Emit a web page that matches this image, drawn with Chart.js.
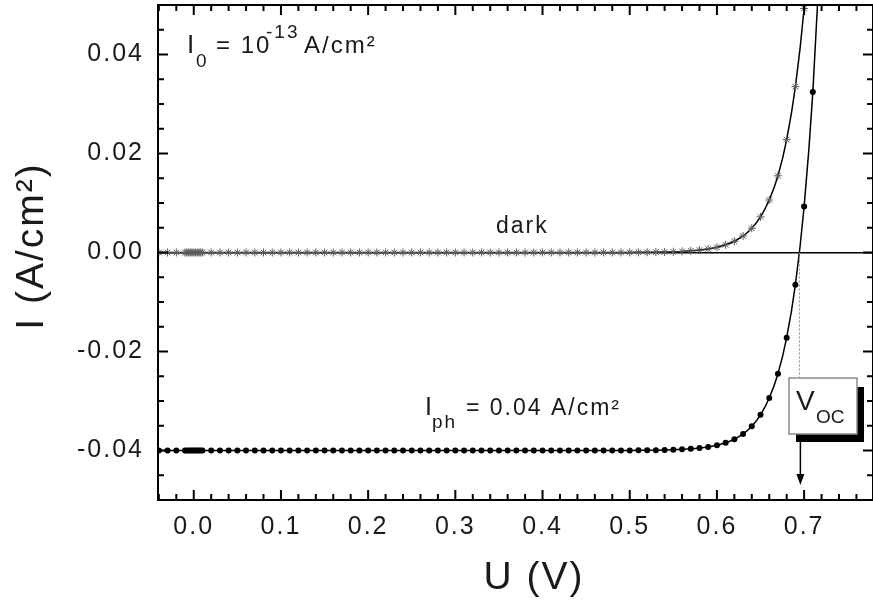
<!DOCTYPE html>
<html>
<head>
<meta charset="utf-8">
<script src="https://cdn.jsdelivr.net/npm/chart.js@4/dist/chart.umd.min.js"></script>
<style>
  html, body { margin:0; padding:0; overflow:hidden; background:#fff; }
  #wrap { position:absolute; left:0; top:0; width:878px; height:604px; }
</style>
</head>
<body>
<div id="wrap"><canvas id="c"></canvas></div>
<script>
// ---- data ----
const voltage = [-0.04,-0.03,-0.02,-0.01,-0.008,-0.006,-0.004,-0.002,0,0.002,0.004,0.006,0.008,0.01,
  0.02,0.03,0.04,0.05,0.06,0.07,0.08,0.09,0.10,0.11,0.12,0.13,0.14,0.15,0.16,0.17,0.18,0.19,0.20,
  0.21,0.22,0.23,0.24,0.25,0.26,0.27,0.28,0.29,0.30,0.31,0.32,0.33,0.34,0.35,0.36,0.37,0.38,0.39,0.40,
  0.41,0.42,0.43,0.44,0.45,0.46,0.47,0.48,0.49,0.50,0.51,0.52,0.53,0.54,0.55,0.56,0.57,0.58,0.59,0.60,
  0.61,0.62,0.63,0.64,0.65,0.66,0.67,0.68,0.69,0.70,0.71,0.72];

const darkCurrent = [0,0,0,0,0,0,0,0,0,0,0,0,0,0,
  0,0,0,0,0,0,0,0,0,0,0,0,0,0,0,0,0,0,0,
  0,0,0,0,0,0,0,0,0,0,0,0,0,0,0,0,0,0,0,0,
  0.0000007,0.000001,0.0000015,0.0000022,0.0000033,0.0000048,0.0000071,0.0000104,0.0000153,0.0000225,0.000033,0.0000485,0.0000713,0.000105,0.000154,0.000226,0.000332,0.000488,0.000716,0.00105,
  0.00155,0.00227,0.00334,0.0049,0.0072,0.0106,0.0155,0.0228,0.0335,0.0493,0.0724,0.106];

const lightCurrent = [-0.04,-0.04,-0.04,-0.04,-0.04,-0.04,-0.04,-0.04,-0.04,-0.04,-0.04,-0.04,-0.04,-0.04,
  -0.04,-0.04,-0.04,-0.04,-0.04,-0.04,-0.04,-0.04,-0.04,-0.04,-0.04,-0.04,-0.04,-0.04,-0.04,-0.04,-0.04,-0.04,-0.04,
  -0.04,-0.04,-0.04,-0.04,-0.04,-0.04,-0.04,-0.04,-0.04,-0.04,-0.04,-0.04,-0.04,-0.04,-0.04,-0.04,-0.04,-0.04,-0.04,-0.04,
  -0.04,-0.04,-0.04,-0.04,-0.04,-0.04,-0.04,-0.03999,-0.03998,-0.03998,-0.03997,-0.03995,-0.03993,-0.0399,-0.03985,-0.03977,-0.03967,-0.03951,-0.03928,-0.03895,
  -0.03845,-0.03773,-0.03666,-0.0351,-0.0328,-0.0294,-0.0245,-0.0172,-0.0065,0.0093,0.0324,0.066];

const xTickValues = [0.0,0.1,0.2,0.3,0.4,0.5,0.6,0.7];
const yTickValues = [-0.04,-0.02,0.00,0.02,0.04];
const xRange = [-0.041, 0.779];
const yRange = [-0.05, 0.05];
const vocValue = 0.694;
const xTitle = 'U (V)';
const yTitle = 'I (A/cm²)';

const FAM = "'Liberation Sans', Arial, Helvetica, sans-serif";
const TXT = '#1a1a1a';

const darkPts = voltage.map((v,i)=>({x:v, y:darkCurrent[i]}));
const lightPts = voltage.map((v,i)=>({x:v, y:lightCurrent[i]}));

const spacingPlugin = {
  id:'spacing',
  beforeDraw(chart){ chart.ctx.letterSpacing = '2px'; }
};

const framePlugin = {
  id:'frame',
  afterDatasetsDraw(chart){
    const {ctx, chartArea:a, scales:{x, y}} = chart;
    ctx.save();
    // inward ticks
    ctx.strokeStyle = '#000';
    ctx.lineWidth = 2;
    const major = 10, minor = 6;
    ctx.beginPath();
    for (let k = -2; k <= 38; k++) {
      const v = k*0.02;
      const px = x.getPixelForValue(v);
      if (px < a.left-0.5 || px > a.right+0.5) continue;
      const isMaj = Math.abs(v*10 - Math.round(v*10)) < 1e-6;
      const L = isMaj ? major : minor;
      ctx.moveTo(px, a.bottom); ctx.lineTo(px, a.bottom - L);
      ctx.moveTo(px, a.top); ctx.lineTo(px, a.top + L);
    }
    for (let k = -10; k <= 10; k++) {
      const v = k*0.005;
      const py = y.getPixelForValue(v);
      const isMaj = (k % 4 === 0);
      const L = isMaj ? major : minor;
      ctx.moveTo(a.left, py); ctx.lineTo(a.left + L, py);
      ctx.moveTo(a.right, py); ctx.lineTo(a.right - L, py);
    }
    ctx.stroke();
    ctx.lineWidth = 2;
    ctx.strokeRect(a.left, a.top, a.right - a.left, a.bottom - a.top);

    // Voc marker: dotted line, box with shadow, arrow
    const vx = x.getPixelForValue(vocValue);
    const y0 = y.getPixelForValue(0);
    ctx.strokeStyle = '#8a8a8a';
    ctx.lineWidth = 1;
    ctx.setLineDash([2,2]);
    ctx.beginPath(); ctx.moveTo(vx+0.5, y0); ctx.lineTo(vx+0.5, 378); ctx.stroke();
    ctx.setLineDash([]);

    ctx.fillStyle = '#000';
    ctx.fillRect(796, 387, 68, 55);
    ctx.fillStyle = '#fff';
    ctx.fillRect(789, 378, 68, 56);
    ctx.strokeStyle = '#8c8c8c';
    ctx.lineWidth = 1.5;
    ctx.strokeRect(789, 378, 68, 56);

    ctx.strokeStyle = '#000';
    ctx.lineWidth = 1.5;
    ctx.beginPath(); ctx.moveTo(vx+1.5, 442); ctx.lineTo(vx+1.5, 476); ctx.stroke();
    ctx.fillStyle = '#000';
    ctx.beginPath(); ctx.moveTo(vx+1.5, 485); ctx.lineTo(vx-2.5, 474); ctx.lineTo(vx+5.5, 474); ctx.closePath(); ctx.fill();

    // annotations
    ctx.fillStyle = TXT;
    ctx.textAlign = 'left';
    ctx.textBaseline = 'alphabetic';
    ctx.letterSpacing = '2px';
    const t = (s, px, py, size) => { ctx.font = size + 'px ' + FAM; ctx.fillText(s, px, py); };
    t('I', 187, 53, 26);
    t('0', 196, 67, 19);
    t('= 10', 216, 53, 24);
    t('-13', 266, 38, 19);
    t('A/cm²', 304, 53, 24);

    t('dark', 496, 233, 23);

    t('I', 425, 415, 25);
    t('ph', 432, 428, 19);
    t('= 0.04 A/cm²', 466, 415, 23);

    ctx.letterSpacing = '0px';
    t('V', 796, 410, 28);
    t('OC', 816, 423, 19);
    ctx.restore();
  },
  afterDraw(chart){
    const {ctx} = chart;
    ctx.save();
    ctx.fillStyle = TXT;
    ctx.letterSpacing = '2px';
    ctx.font = '39px ' + FAM;
    ctx.textAlign = 'center';
    ctx.textBaseline = 'alphabetic';
    // axis titles
    ctx.fillText(xTitle, 534, 589);
    ctx.translate(43, 246);
    ctx.rotate(-Math.PI/2);
    ctx.fillText(yTitle, 0, 0);
    ctx.restore();
  }
};

new Chart(document.getElementById('c'), {
  type: 'line',
  data: {
    datasets: [
      {
        label: 'dark',
        data: darkPts,
        borderColor: '#000',
        borderWidth: 1.5,
        pointStyle: 'star',
        pointRadius: 4,
        pointBorderColor: '#5a5a5a',
        pointBackgroundColor: '#5a5a5a',
        pointBorderWidth: 1,
        cubicInterpolationMode: 'monotone',
        fill: false
      },
      {
        label: 'light',
        data: lightPts,
        borderColor: '#000',
        borderWidth: 1.5,
        pointStyle: 'circle',
        pointRadius: 3,
        pointBorderWidth: 0,
        pointBackgroundColor: '#000',
        cubicInterpolationMode: 'monotone',
        fill: false
      }
    ]
  },
  options: {
    responsive: true,
    maintainAspectRatio: false,
    animation: false,
    events: [],
    layout: { padding: { top: 3, right: 1, bottom: 0, left: 0 } },
    plugins: { legend: { display: false }, tooltip: { enabled: false } },
    scales: {
      x: {
        type: 'linear', position: 'bottom',
        min: xRange[0], max: xRange[1],
        afterBuildTicks: s => { s.ticks = xTickValues.map(v => ({ value: v })); },
        afterFit: s => { s.height = 104; s.paddingLeft = 0; s.paddingRight = 0; },
        grid: { display: false },
        border: { display: false },
        ticks: { color: TXT, padding: 4, font: { family: FAM, size: 25 }, callback: v => Number(v).toFixed(1), maxRotation: 0, autoSkip: false },
        title: { display: false, text: xTitle }
      },
      y: {
        type: 'linear', position: 'left',
        min: yRange[0], max: yRange[1],
        afterBuildTicks: s => { s.ticks = yTickValues.map(v => ({ value: v })); },
        afterFit: s => { s.width = 158; s.paddingTop = 0; s.paddingBottom = 0; },
        grid: { display: true, drawTicks: false, lineWidth: 1.5, color: c => (c.tick && Math.abs(c.tick.value) < 1e-9) ? '#000' : 'rgba(0,0,0,0)' },
        border: { display: false },
        ticks: { color: TXT, padding: 14, font: { family: FAM, size: 25 }, callback: v => Number(v).toFixed(2), autoSkip: false },
        title: { display: false, text: yTitle }
      }
    }
  },
  plugins: [spacingPlugin, framePlugin]
});
</script>
</body>
</html>
